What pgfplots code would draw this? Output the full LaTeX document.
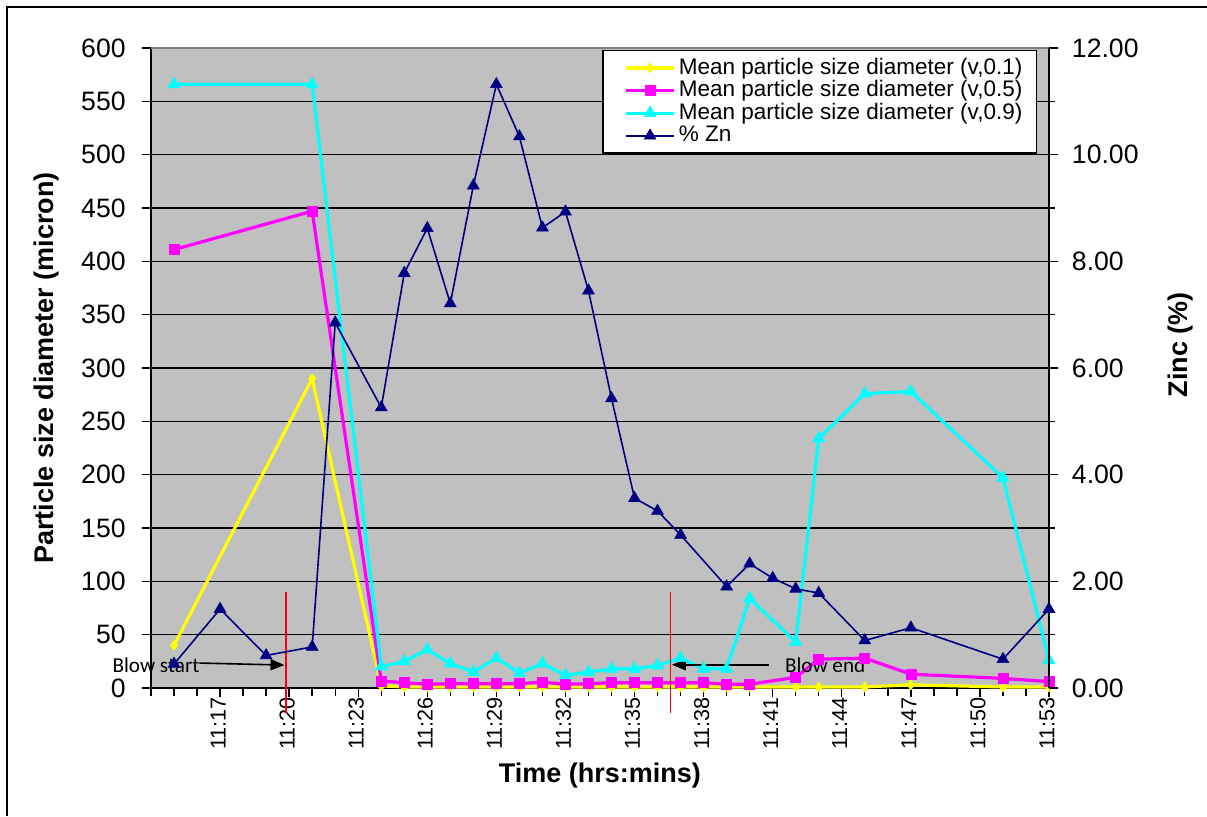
\documentclass[border=0pt]{standalone}
\usepackage{pgfplots}
\usepackage{pgfplotstable}
\pgfplotsset{compat=1.18}
\usepackage{fontspec}
\setmainfont{Liberation Sans}
\newfontfamily\notefont{Carlito}
\usetikzlibrary{arrows.meta}

\definecolor{plotgray}{HTML}{C0C0C0}
\definecolor{edgegray}{HTML}{808080}
\definecolor{zinc}{HTML}{000080}
\definecolor{dten}{HTML}{FFFF00}
\definecolor{dfifty}{HTML}{FF00FF}
\definecolor{dninety}{HTML}{00FFFF}

% Particle size (micron) against time in minutes after 11:00
\pgfplotstableread{
t   d10   d50   d90
15  40    411   566
21  290   447   566
24  2     6.5   20
25  1     5     25
26  1     3.5   36
27  1     4     23
28  1     4     15
29  1     4     28
30  1     4     14
31  1     5.5   23
32  1     3.5   12
33  1     4     15
34  1     5     18
35  1     5     18
36  1     5     21
37  1     5     28
38  1     5     18
39  1     3.5   18
40  1     3.5   84
42  1     10    43
43  1     27    234
45  1     28    276
47  3     13    278
51  1     9     197
53  1     6     26
}\sizes

% Zinc content (%) against time in minutes after 11:00
\pgfplotstableread{
t   zn
15  0.45
17  1.48
19  0.61
21  0.77
22  6.85
24  5.26
25  7.78
26  8.62
27  7.21
28  9.42
29  11.32
30  10.34
31  8.63
32  8.93
33  7.45
34  5.43
35  3.56
36  3.32
37  2.87
39  1.90
40  2.33
41  2.06
42  1.86
43  1.78
45  0.89
47  1.13
51  0.54
53  1.48
}\zinc

\pgfplotsset{
  timeaxis/.style={
    width=449pt, height=320pt, scale only axis,
    at={(0,0)}, anchor=south west,
    xmin=14, xmax=53,
    clip=false,
  },
  dten style/.style={draw=dten, line width=1.6pt, mark=diamond*,
    mark size=2.5pt, mark options={solid, fill=dten, draw=dten, line width=0.3pt}},
  dfifty style/.style={draw=dfifty, line width=1.6pt, mark=square*,
    mark size=2.5pt, mark options={solid, fill=dfifty, draw=dfifty, line width=0.3pt}},
  dninety style/.style={draw=dninety, line width=1.6pt, mark=triangle*,
    mark size=3.5pt, mark options={solid, fill=dninety, draw=dninety, line width=0.3pt}},
  zinc style/.style={draw=zinc, line width=0.8pt, mark=triangle*,
    mark size=3.4pt, mark options={solid, fill=zinc, draw=zinc, line width=0.3pt}},
}

\begin{document}
\begin{tikzpicture}
\path[use as bounding box] (-75.5pt,-64pt) rectangle (528pt,344pt);
% outer frame of the chart
\draw[line width=1pt] (-72pt,-64pt) -- (-72pt,340.5pt) -- (528pt,340.5pt);

% left axis: particle size
\begin{axis}[
  timeaxis,
  axis background/.style={fill=plotgray},
  axis x line*=bottom, axis y line*=left,
  axis line style={line width=0.8pt, black},
  ymin=0, ymax=600,
  ytick={0,50,...,600},
  ymajorgrids, grid style={black, line width=0.75pt},
  xtick={17,20,...,53},
  xticklabels={11:17,11:20,11:23,11:26,11:29,11:32,11:35,11:38,11:41,11:44,11:47,11:50,11:53},
  minor xtick={14,...,53},
  tick align=outside,
  major tick length=4.5pt, minor tick length=4pt,
  tick style={black, line width=0.7pt},
  xticklabel style={rotate=90, anchor=east, inner sep=0pt, yshift=1pt,
    font=\fontsize{10.8}{11}\selectfont},
  yticklabel style={inner sep=0pt, xshift=-8pt,
    font=\fontsize{13.3}{14}\selectfont},
  /pgf/number format/assume math mode=true,
  xlabel={Time (hrs:mins)},
  xlabel style={at={(axis description cs:0.5,-0.136)}, anchor=center,
    font=\fontsize{13.5}{15}\selectfont\bfseries},
  ylabel={Particle size diameter (micron)},
  ylabel style={at={(axis description cs:-0.116,0.5)}, anchor=center,
    font=\fontsize{13.5}{15}\selectfont\bfseries},
]
\draw[edgegray, line width=0.8pt] (rel axis cs:0,1) -- (rel axis cs:1,1);
\addplot[dten style] table[x=t, y=d10] {\sizes};
\addplot[dfifty style] table[x=t, y=d50] {\sizes};
\addplot[dninety style] table[x=t, y=d90] {\sizes};

% blow start / blow end markers
\draw[red, line width=0.8pt] (axis cs:19.86,90) -- (axis cs:19.86,-23.5);
\draw[red, line width=0.8pt] (axis cs:36.56,90) -- (axis cs:36.56,-23.5);
\draw[line width=0.8pt, -{Triangle[length=7pt, width=5.5pt]}]
  (axis cs:16.1,23.4) -- (axis cs:19.8,21.5);
\draw[line width=0.8pt, -{Triangle[length=7pt, width=5.5pt]}]
  (axis cs:40.85,21.8) -- (axis cs:36.62,21.8);
\node[font=\notefont\fontsize{10.6}{12}\selectfont, inner sep=0pt]
  at (axis cs:14.22,21.6) {Blow start};
\node[font=\notefont\fontsize{10.6}{12}\selectfont, inner sep=0pt]
  at (axis cs:43.28,21.6) {Blow end};
\end{axis}

% right axis: zinc
\begin{axis}[
  timeaxis,
  axis x line=none,
  axis y line*=right,
  axis line style={line width=0.8pt, black},
  ymin=0, ymax=12,
  ytick={0,2,...,12},
  minor ytick={1,3,...,11},
  tick align=outside,
  major tick length=4.5pt, minor tick length=3pt,
  tick style={black, line width=0.7pt},
  yticklabel style={inner sep=0pt, xshift=6.8pt,
    font=\fontsize{13.3}{14}\selectfont,
    /pgf/number format/.cd, fixed, fixed zerofill, precision=2},
  /pgf/number format/assume math mode=true,
  ylabel={Zinc (\%)},
  ylabel style={at={(axis description cs:1.146,0.536)}, anchor=center,
    font=\fontsize{13.5}{15}\selectfont\bfseries},
  legend style={at={(0.987,0.997)}, anchor=north east,
    draw=black, line width=0.75pt, fill=white,
    font=\fontsize{11.25}{11.25}\selectfont,
    inner xsep=7pt, inner ysep=3pt,
    nodes={inner sep=0.1pt, text height=8.6pt, text depth=2.5pt},
    row sep=0pt},
  legend cell align=left,
  legend image code/.code={
    \path (-0.19cm,0cm) (0.84cm,0cm);
    \draw[mark repeat=2, mark phase=2]
      plot coordinates {(-0.06cm,0cm) (0.365cm,0cm) (0.79cm,0cm)};},
]
\addlegendimage{dten style}
\addlegendentry{Mean particle size diameter (v,0.1)}
\addlegendimage{dfifty style}
\addlegendentry{Mean particle size diameter (v,0.5)}
\addlegendimage{dninety style}
\addlegendentry{Mean particle size diameter (v,0.9)}
\addplot[zinc style] table[x=t, y=zn] {\zinc};
\addlegendentry{\% Zn}
\end{axis}
\end{tikzpicture}
\end{document}
